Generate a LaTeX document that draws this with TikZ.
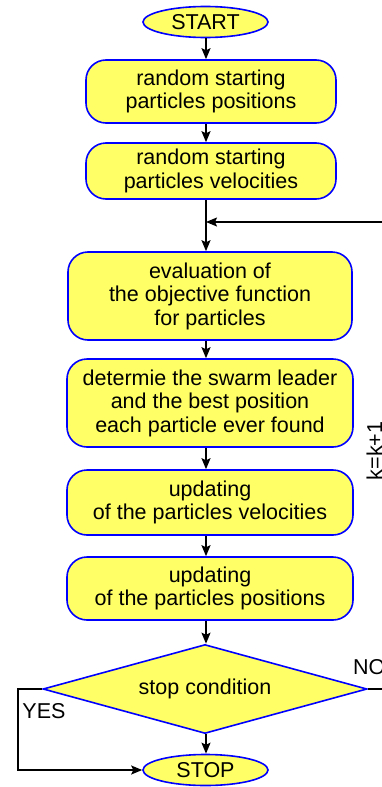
\documentclass[tikz,border=0pt]{standalone}
\usepackage{fontspec}
\setmainfont{Liberation Sans}
\usetikzlibrary{shapes.geometric,arrows.meta}

\definecolor{boxfill}{HTML}{FFFF66}
\definecolor{boxline}{HTML}{0000FF}

\tikzset{
  every node/.style={font=\fontsize{21.5}{23.5}\selectfont},
  procbox/.style={rectangle, rounded corners=20pt, draw=boxline, fill=boxfill,
    line width=1.6pt, align=center, inner sep=0pt},
  termbox/.style={ellipse, draw=boxline, fill=boxfill, line width=1.6pt,
    inner sep=0pt, minimum width=125pt, minimum height=31pt},
  decbox/.style={diamond, draw=boxline, fill=boxfill, line width=1.6pt,
    inner sep=0pt, aspect=3.64, minimum width=324pt, minimum height=89pt},
  flow/.style={line width=1.4pt, -{Stealth[length=11pt,width=9pt,inset=2pt]}},
  tag/.style={inner sep=0pt}
}

\begin{document}
\begin{tikzpicture}[x=1pt,y=-1pt]
  \useasboundingbox (0,0) rectangle (382,787);
  \clip (0,0) rectangle (382,787);

  % vertical axis of the flow
  \coordinate (axis) at (206,0);

  \node[termbox] (start) at (205.5,22) {START};
  \node[procbox, minimum width=250pt, minimum height=63pt] (pos) at (211,91.5)
    {random starting\\particles positions};
  \node[procbox, minimum width=250pt, minimum height=56pt] (vel) at (211,171)
    {random starting\\particles velocities};
  \node[procbox, minimum width=284pt, minimum height=88pt] (eval) at (210,296)
    {evaluation of\\the objective function\\for particles};
  \node[procbox, minimum width=286pt, minimum height=88pt] (leader) at (210,403)
    {determie the swarm leader\\and the best position\\each particle ever found};
  \node[procbox, minimum width=286pt, minimum height=65pt] (updvel) at (210,502.5)
    {updating\\of the particles velocities};
  \node[procbox, minimum width=286pt, minimum height=63pt] (updpos) at (210,588.5)
    {updating\\of the particles positions};
  \node[decbox] (cond) at (205,689) {stop condition};
  \node[termbox] (stop) at (205.5,770) {STOP};

  % loop entry point and outer corners
  \coordinate (join) at (206,222);
  \coordinate (yesA) at (18,689);
  \coordinate (yesB) at (18,770);
  \coordinate (noA) at (395,689);
  \coordinate (noB) at (395,222);

  % main flow
  \draw[flow] (start.south -| axis) -- (pos.north -| axis);
  \draw[flow] (pos.south -| axis) -- (vel.north -| axis);
  \draw[flow] (vel.south -| axis) -- (eval.north -| axis);
  \draw[flow] (eval.south -| axis) -- (leader.north -| axis);
  \draw[flow] (leader.south -| axis) -- (updvel.north -| axis);
  \draw[flow] (updvel.south -| axis) -- (updpos.north -| axis);
  \draw[flow] (updpos.south -| axis) -- (cond.north -| axis);
  \draw[flow] (cond.south -| axis) -- (stop.north -| axis);

  % YES branch
  \draw[flow] (cond.west) -- (yesA) -- (yesB) -- (stop.west);
  % NO branch back into the loop
  \draw[flow] (cond.east) -- (noA) -- (noB) -- (join);

  \node[tag] (yes) at (44,711) {YES};
  \node[tag, anchor=west] (no) at (353,667) {NO};
  \node[tag, rotate=90, anchor=base] (kinc) at (382,451) {k=k+1};
\end{tikzpicture}
\end{document}
